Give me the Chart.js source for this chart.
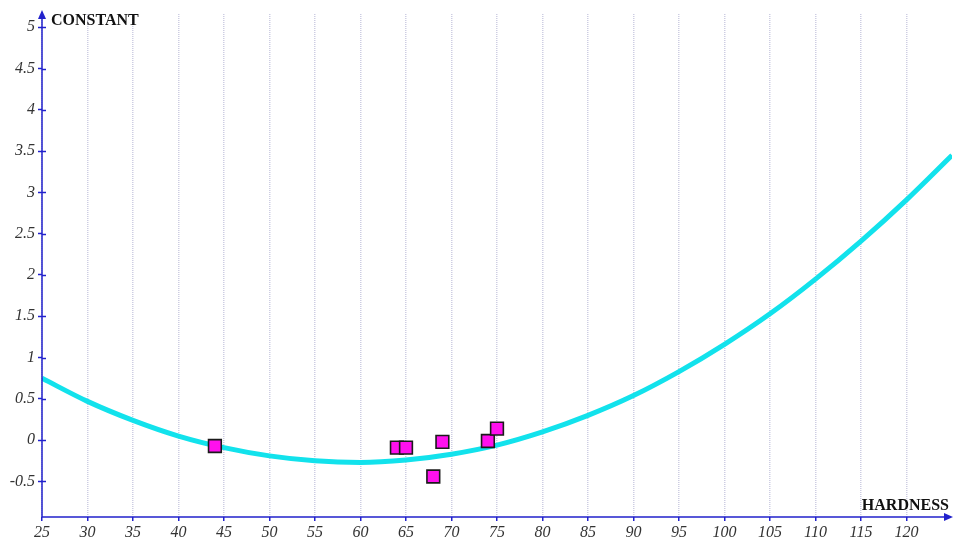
<!DOCTYPE html>
<html>
<head>
<meta charset="utf-8">
<script src="https://cdn.jsdelivr.net/npm/chart.js@4/dist/chart.umd.min.js"></script>
<style>
html,body{margin:0;padding:0;background:#fff;}
#wrap{width:956px;height:543px;position:relative;}
</style>
</head>
<body>
<div id="wrap"><canvas id="c" width="956" height="543"></canvas></div>
<script>
// Measured points (HARDNESS, CONSTANT)
const pointX = [44, 64, 65, 68, 69, 74, 75];
const pointY = [-0.07, -0.09, -0.09, -0.44, -0.02, -0.01, 0.14];
// Fitted curve
const curveX = [25, 30, 35, 40, 45, 50, 55, 60, 65, 70, 75, 80, 85, 90, 95, 100, 105, 110, 115, 120, 125];
const curveY = [0.75, 0.47, 0.24, 0.05, -0.09, -0.19, -0.25, -0.27, -0.24, -0.17, -0.06, 0.10, 0.30, 0.54, 0.83, 1.16, 1.53, 1.95, 2.41, 2.91, 3.45];
// Tick labels
const xTicks = [25, 30, 35, 40, 45, 50, 55, 60, 65, 70, 75, 80, 85, 90, 95, 100, 105, 110, 115, 120];
const yTicks = [-0.5, 0, 0.5, 1, 1.5, 2, 2.5, 3, 3.5, 4, 4.5, 5];
const xTitle = 'HARDNESS';
const yTitle = 'CONSTANT';

const AXIS = '#2222cc';

const axisPlugin = {
  id: 'axisDeco',
  afterDatasetsDraw(chart) {
    const ctx = chart.ctx;
    const a = chart.chartArea;
    const ys = chart.scales.y;
    ctx.save();
    ctx.strokeStyle = AXIS;
    ctx.fillStyle = AXIS;
    ctx.lineWidth = 1.5;
    yTicks.forEach(v => {
      const py = Math.round(ys.getPixelForValue(v)) + 0.5;
      ctx.beginPath(); ctx.moveTo(a.left, py); ctx.lineTo(a.left + 4, py); ctx.stroke();
    });
    ctx.beginPath();
    ctx.moveTo(a.left, a.bottom); ctx.lineTo(a.left, a.top - 2);
    ctx.moveTo(a.left, a.bottom); ctx.lineTo(a.right - 1, a.bottom);
    ctx.stroke();
    ctx.beginPath();
    ctx.moveTo(a.left, a.top - 4); ctx.lineTo(a.left - 4, a.top + 5); ctx.lineTo(a.left + 4, a.top + 5); ctx.closePath(); ctx.fill();
    ctx.beginPath();
    ctx.moveTo(a.right + 1, a.bottom); ctx.lineTo(a.right - 8, a.bottom - 4); ctx.lineTo(a.right - 8, a.bottom + 4); ctx.closePath(); ctx.fill();
    ctx.fillStyle = '#111';
    ctx.font = 'bold 16px "Liberation Serif", serif';
    ctx.textBaseline = 'alphabetic';
    ctx.textAlign = 'left';
    ctx.fillText(yTitle, a.left + 9, a.top + 11);
    ctx.textAlign = 'right';
    ctx.fillText(xTitle, a.right - 3, a.bottom - 7);
    ctx.restore();
  }
};

new Chart(document.getElementById('c'), {
  type: 'scatter',
  data: {
    datasets: [
      {
        label: 'points',
        data: pointX.map((x, i) => ({x: x, y: pointY[i]})),
        pointStyle: 'rect',
        pointRadius: 9,
        backgroundColor: '#ff10ee',
        borderColor: '#1a1a1a',
        borderWidth: 1.6,
        order: 0
      },
      {
        label: 'curve',
        type: 'line',
        data: curveX.map((x, i) => ({x: x, y: curveY[i]})),
        borderColor: '#12e2ec',
        borderWidth: 5,
        pointRadius: 0,
        tension: 0.4,
        cubicInterpolationMode: 'monotone',
        fill: false,
        order: 1
      }
    ]
  },
  options: {
    responsive: false,
    animation: false,
    events: [],
    layout: {autoPadding: false, padding: {top: 14, right: 4, left: 0, bottom: 0}},
    plugins: {legend: {display: false}, tooltip: {enabled: false}},
    scales: {
      x: {
        type: 'linear',
        min: 25, max: 125,
        afterBuildTicks: s => { s.ticks = xTicks.map(v => ({value: v})); },
        afterFit: s => { s.height = 26; },
        border: {display: false, dash: [1, 1]},
        grid: {
          display: true, drawOnChartArea: true, drawTicks: true,
          tickLength: 4, color: '#cdcde2', tickColor: AXIS, lineWidth: 1.5, tickWidth: 1.5
        },
        ticks: {
          padding: 2, color: '#333', autoSkip: false, maxRotation: 0,
          font: {family: '"Liberation Serif", serif', style: 'italic', size: 16}
        }
      },
      y: {
        type: 'linear',
        min: -0.93, max: 5.16,
        afterBuildTicks: s => { s.ticks = yTicks.map(v => ({value: v})); },
        afterFit: s => { s.width = 42; },
        border: {display: false},
        grid: {
          display: true, drawOnChartArea: false, drawTicks: true,
          tickLength: 4, color: AXIS, tickColor: AXIS, tickWidth: 1.5
        },
        ticks: {
          padding: 3, color: '#333', autoSkip: false,
          font: {family: '"Liberation Serif", serif', style: 'italic', size: 16},
          callback: v => String(v)
        }
      }
    }
  },
  plugins: [axisPlugin]
});
</script>
</body>
</html>
